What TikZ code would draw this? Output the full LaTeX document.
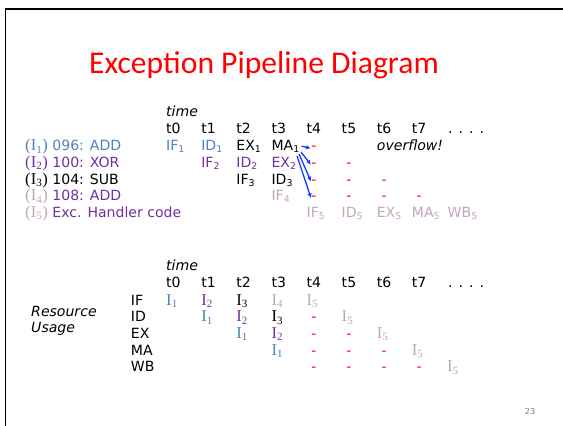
\documentclass[tikz,border=0pt]{standalone}
\usepackage{fontspec}
\setmainfont{DejaVu Sans}
\newfontfamily\titlefont{Carlito}
\newfontfamily\serifI[Scale=1.18]{Liberation Serif}
\usetikzlibrary{arrows.meta,calc}

\definecolor{instblue}{RGB}{79,129,189}
\definecolor{instpurple}{RGB}{112,48,160}
\definecolor{instpale}{RGB}{192,165,188}
\definecolor{flowblue}{RGB}{20,60,255}

% stage with subscript, instruction tag
\newcommand{\pipestage}[2]{#1\textsubscript{#2}}
\newcommand{\instrI}[1]{{\serifI I\textsubscript{#1}}}
\newcommand{\instrtag}[1]{{\serifI(I\textsubscript{#1})}}

\begin{document}
\begin{tikzpicture}[x=0.03cm,y=-0.03cm,
    txt/.style={anchor=base west,inner sep=0pt,font=\fontsize{12}{14}\selectfont},
    gap/.style={anchor=base,inner sep=0pt,text=red,font=\fontsize{12}{14}\selectfont},
    flow/.style={-{Latex[length=4pt,width=3.8pt]},line width=1.1pt,flowblue,shorten >=0.3pt}]
    \useasboundingbox (0,0) rectangle (563,426);
    \draw[line width=1.7pt] (5.5,426) -- (5.5,9) -- (563,9);
    \node[anchor=base,inner sep=0pt,text=red,font=\titlefont\fontsize{27}{30}\selectfont] (title) at (264,73.3) {Exception Pipeline Diagram};

    % pipeline with the exception
    \node[txt,font=\fontsize{12}{14}\selectfont\itshape] (timeA) at (166,117) {time};
    \foreach \k in {0,...,7}
        \node[txt] (tA\k) at ({166+35.1*\k},134) {t\k};
    \node[txt] (dotsA) at (448,134) {. . . .};

    \node[txt,text=instblue] (lab1) at (25,150.7) {\instrtag{1} 096: ADD};
    \node[txt,text=instpurple] (lab2) at (25,167.3) {\instrtag{2} 100: XOR};
    \node[txt] (lab3) at (25,184) {\instrtag{3} 104: SUB};
    \node[txt] (lab4) at (25,200.7) {{\color{instpale}\instrtag{4}} {\color{instpurple}108: ADD}};
    \node[txt] (lab5) at (25,217.3) {{\color{instpale}\instrtag{5}} {\color{instpurple}Exc. Handler code}};

    \node[txt,text=instblue] (if1) at (166,150.7) {\pipestage{IF}{1}};
    \node[txt,text=instblue] (id1) at (201.1,150.7) {\pipestage{ID}{1}};
    \node[txt] (ex1) at (236.2,150.7) {\pipestage{EX}{1}};
    \node[txt] (ma1) at (271.3,150.7) {\pipestage{MA}{1}};
    \node[txt,text=instpurple] (if2) at (201.1,167.3) {\pipestage{IF}{2}};
    \node[txt,text=instpurple] (id2) at (236.2,167.3) {\pipestage{ID}{2}};
    \node[txt,text=instpurple] (ex2) at (271.3,167.3) {\pipestage{EX}{2}};
    \node[txt] (if3) at (236.2,184) {\pipestage{IF}{3}};
    \node[txt] (id3) at (271.3,184) {\pipestage{ID}{3}};
    \node[txt,text=instpale] (if4) at (271.3,200.7) {\pipestage{IF}{4}};
    \node[txt,font=\fontsize{12}{14}\selectfont\itshape] (ovf) at (376.7,150.7) {overflow!};

    % killed slots
    \foreach \r/\y/\n in {1/150.7/4,2/167.3/5,3/184/6,4/200.7/7}
        \foreach \k in {4,...,\n}
            \node[gap] (up\r\k) at ({173.5+35.1*\k},\y) {-};

    % handler
    \node[txt,text=instpale] (if5) at (306.4,217.3) {\pipestage{IF}{5}};
    \node[txt,text=instpale] (id5) at (341.5,217.3) {\pipestage{ID}{5}};
    \node[txt,text=instpale] (ex5) at (376.6,217.3) {\pipestage{EX}{5}};
    \node[txt,text=instpale] (ma5) at (411.7,217.3) {\pipestage{MA}{5}};
    \node[txt,text=instpale] (wb5) at (447.5,217.3) {\pipestage{WB}{5}};

    \draw[flow] ($(ma1.east)+(1.5,-0.5)$) -- (up14.west);
    \draw[flow] ($(ma1.south east)+(1,-1)$) -- (up24.west);
    \draw[flow] ($(ma1.south east)+(-1,1)$) -- (up34.west);
    \draw[flow] ($(ma1.south east)+(-3,3)$) -- (up44.west);

    % resource usage
    \node[txt,font=\fontsize{12}{14}\selectfont\itshape] (timeB) at (166,270.7) {time};
    \foreach \k in {0,...,7}
        \node[txt] (tB\k) at ({166+35.1*\k},287.7) {t\k};
    \node[txt] (dotsB) at (448,287.7) {. . . .};
    \node[txt,align=left,font=\fontsize{12}{13.6}\selectfont\itshape] (usage) at (31,332.3) {Resource\\Usage};

    \foreach \s/\st/\y in {0/IF/305,1/ID/321.7,2/EX/338.3,3/MA/355,4/WB/371.7}{
        \node[txt] (res\s) at (130.7,\y) {\st};
        \foreach \i/\c in {1/instblue,2/instpurple,3/black,4/instpale}{
            \pgfmathtruncatemacro{\k}{\s+\i-1}
            \ifnum\k<4
                \node[txt,text=\c] (use\s\i) at ({166+35.1*\k},\y) {\instrI{\i}};
            \fi
        }
        \foreach \k in {4,...,8}{
            \pgfmathtruncatemacro{\m}{4+\s}
            \ifnum\k<\m
                \node[gap] (low\s\k) at ({173.5+35.1*\k},\y) {-};
            \fi
            \ifnum\k=\m
                \node[txt,text=instpale] (use\s5) at ({166+35.1*\k},\y) {\instrI{5}};
            \fi
        }
    }

    \node[inner sep=0pt,text=gray,font=\fontsize{7}{8}\selectfont] (pagenum) at (530,412) {23};
\end{tikzpicture}
\end{document}
